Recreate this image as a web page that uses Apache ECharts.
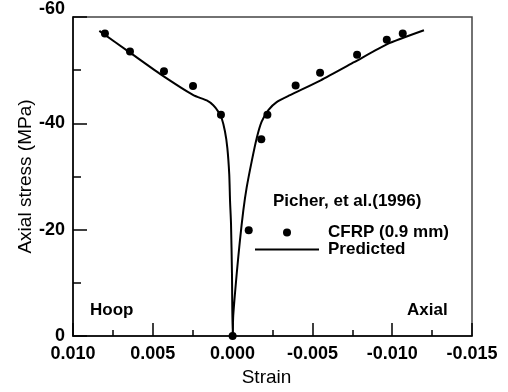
<!DOCTYPE html>
<html>
<head>
<meta charset="utf-8">
<script src="https://cdn.jsdelivr.net/npm/echarts@6/dist/echarts.min.js"></script>
<style>
html,body{margin:0;padding:0;background:#fff;}
#chart{width:508px;height:392px;}
</style>
</head>
<body>
<div id="chart"></div>
<script>
// Experimental data: Picher, et al. (1996), CFRP (0.9 mm)
var expStrain = [0.00800, 0.00643, 0.00430, 0.00248, 0.00073, 0.00000, -0.00101, -0.00180, -0.00218, -0.00395, -0.00548, -0.00780, -0.00966, -0.01066];
var expStress = [-56.9, -53.5, -49.8, -47.0, -41.6, 0.0, -19.9, -37.0, -41.6, -47.1, -49.5, -52.9, -55.7, -56.9];

// Predicted curve (hoop branch from top down to origin, then axial branch up)
var predStrain = [0.00835, 0.00643, 0.00455, 0.00246, 0.00162, 0.00121, 0.00090, 0.00068, 0.00048, 0.00033, 0.00021, 0.00016, 0.00010, 0.00004, 0.00000,
                  -0.00004, -0.00026, -0.00046, -0.00067, -0.00088, -0.00120, -0.00151, -0.00182, -0.00224, -0.00276, -0.00360, -0.00552, -0.00761, -0.00969, -0.01199];
var predStress = [-57.4, -53.3, -49.3, -45.3, -44.3, -43.4, -42.2, -40.9, -38.5, -35.4, -30.4, -25.4, -21.2, -11.9, 0.0,
                  -3.8, -11.8, -18.0, -23.6, -27.9, -32.9, -37.2, -40.3, -42.5, -44.0, -45.3, -48.1, -51.5, -54.9, -57.5];

var xTicks = {min: -0.015, max: 0.010, interval: 0.005};
var yTicks = {min: -60, max: 0, interval: 20};

var legendTitle = 'Picher, et al.(1996)';
var expName = 'CFRP (0.9 mm)';
var predName = 'Predicted';

function zip(a, b) { return a.map(function (v, i) { return [v, b[i]]; }); }

var chart = echarts.init(document.getElementById('chart'), null, {renderer: 'canvas'});
var FONT = 'Liberation Sans, Arial, sans-serif';

chart.setOption({
  backgroundColor: '#fff',
  animation: false,
  grid: {left: 73, right: 36, top: 14, bottom: 55, show: true, borderColor: '#444', borderWidth: 1.5, backgroundColor: 'transparent'},
  xAxis: {
    type: 'value', inverse: true,
    min: xTicks.min, max: xTicks.max, interval: xTicks.interval,
    name: 'Strain', nameLocation: 'middle', nameGap: 32, nameMoveOverlap: false,
    nameTextStyle: {fontFamily: FONT, fontSize: 19, color: '#000', padding: [0, 12, 0, 0]},
    axisLine: {onZero: false, lineStyle: {color: '#000', width: 1.5}},
    axisTick: {inside: true, length: 13, lineStyle: {color: '#000', width: 1.5}},
    minorTick: {show: true, splitNumber: 2, length: 6, lineStyle: {color: '#000', width: 1.5}},
    splitLine: {show: false},
    axisLabel: {fontFamily: FONT, fontSize: 18, fontWeight: 'bold', color: '#000', margin: 9,
      formatter: function (v) { return (Math.abs(v) < 1e-9 ? 0 : v).toFixed(3); }}
  },
  yAxis: {
    type: 'value', inverse: true,
    min: yTicks.min, max: yTicks.max, interval: yTicks.interval,
    name: 'Axial stress (MPa)', nameLocation: 'middle', nameGap: 38, nameMoveOverlap: false,
    nameTextStyle: {fontFamily: FONT, fontSize: 19, color: '#000'},
    axisLine: {onZero: false, lineStyle: {color: '#000', width: 1.5}},
    axisTick: {inside: true, length: 14, lineStyle: {color: '#000', width: 1.5}},
    minorTick: {show: true, splitNumber: 2, length: 8, lineStyle: {color: '#000', width: 1.5}},
    splitLine: {show: false},
    axisLabel: {fontFamily: FONT, fontSize: 18, fontWeight: 'bold', color: '#000', margin: 8,
      formatter: function (v) { return v === yTicks.min ? '{top|' + v + '}' : String(v); },
      rich: {top: {fontFamily: FONT, fontSize: 18, fontWeight: 'bold', color: '#000', padding: [0, 0, 16, 0]}}}
  },
  legend: {
    orient: 'vertical', left: 250, top: 219,
    itemWidth: 64, itemHeight: 8, itemGap: 0,
    textStyle: {fontFamily: FONT, fontSize: 17, fontWeight: 'bold', color: '#000', lineHeight: 17, padding: [0, 0, 0, 4]},
    data: [
      {name: expName, icon: 'circle', itemStyle: {color: '#000', opacity: 1}},
      {name: predName, icon: 'path://M0,0H64V2H0Z', itemStyle: {color: '#000'}}
    ]
  },
  graphic: [
    {type: 'text', left: 273, top: 193, style: {text: legendTitle, font: 'bold 17px ' + FONT, fill: '#000'}},
    {type: 'text', left: 90, top: 302, style: {text: 'Hoop', font: 'bold 17px ' + FONT, fill: '#000'}},
    {type: 'text', left: 407, top: 302, style: {text: 'Axial', font: 'bold 17px ' + FONT, fill: '#000'}}
  ],
  series: [
    {
      name: expName, type: 'scatter', data: zip(expStrain, expStress),
      symbol: 'circle', symbolSize: 8, itemStyle: {color: '#000', opacity: 1}, z: 3
    },
    {
      name: predName, type: 'line', data: zip(predStrain, predStress),
      symbol: 'none', smooth: 0.2, lineStyle: {color: '#000', width: 2}, itemStyle: {color: '#000'}, z: 2
    }
  ]
});
</script>
</body>
</html>
